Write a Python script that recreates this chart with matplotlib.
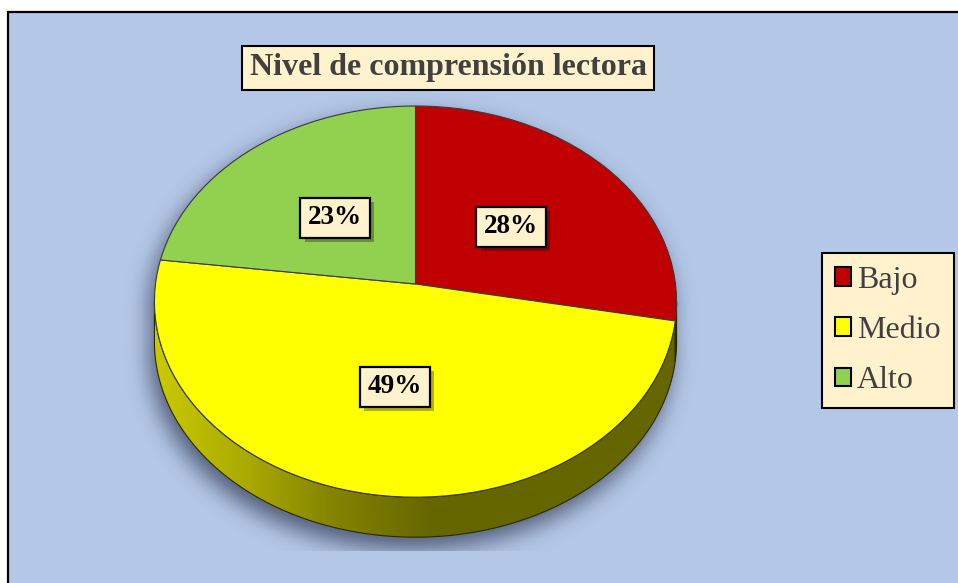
import numpy as np
import matplotlib
matplotlib.use("Agg")
import matplotlib.pyplot as plt
import matplotlib.transforms as mtransforms
import matplotlib.patheffects as pe
from matplotlib.patches import Rectangle, Polygon
from matplotlib.path import Path

# datos del grafico
categories = ["Bajo", "Medio", "Alto"]
percentages = [28, 49, 23]
colors = ["#C00000", "#FFFF00", "#92D050"]
title = "Nivel de comprensión lectora"

W, H = 958, 583
CX, CY = 415.5, 284.0      # centro de la tarta (px desde arriba)
RX, RY = 260.0, 194.0      # radios en px
K = 0.09                   # perspectiva
DEPTH = 40.0               # grosor del canto en px
SERIF = ["Liberation Serif", "DejaVu Serif"]


def to_data(x, y):
    return (x - CX) / RX, (CY - y) / RY


def tilt(u, v):
    w = 1 + K * v
    return u / w, v / w


class Tilt(mtransforms.Transform):
    input_dims = output_dims = 2
    has_inverse = False

    def transform_non_affine(self, values):
        v = np.asarray(values, dtype=float)
        x, y = tilt(v[:, 0], v[:, 1])
        return np.column_stack([x, y])

    def transform_path_non_affine(self, path):
        polys = path.to_polygons(transform=mtransforms.Affine2D().scale(400))
        verts = np.concatenate(polys) / 400.0
        return Path(self.transform_non_affine(verts), closed=True)


def blur(img, sigma):
    n = int(3 * sigma)
    k = np.exp(-0.5 * (np.arange(-n, n + 1) / sigma) ** 2)
    k /= k.sum()
    pad = np.pad(img, ((0, 0), (n, n)), mode="edge")
    tmp = sum(k[i] * pad[:, i:i + img.shape[1]] for i in range(2 * n + 1))
    pad2 = np.pad(tmp, ((n, n), (0, 0)), mode="edge")
    return sum(k[i] * pad2[i:i + img.shape[0]] for i in range(2 * n + 1))


fig = plt.figure(figsize=(W / 100, H / 100), dpi=100)
fig.patch.set_facecolor("white")
ax = fig.add_axes([0, 0, 1, 1])

wedges, _ = ax.pie(percentages, colors=colors, startangle=90, counterclock=False,
                   radius=1, center=(0, 0),
                   wedgeprops=dict(edgecolor="#3a3a3a", linewidth=0.8))

x0, x1 = to_data(0, 0)[0], to_data(W, 0)[0]
y0, y1 = to_data(0, H)[1], to_data(0, 0)[1]
ax.set_xlim(x0, x1)
ax.set_ylim(y0, y1)
ax.set_aspect("auto")
ax.axis("off")

# fondo del grafico
ax.add_patch(Rectangle((8 / W, -0.02), 1.05, (H - 12) / H + 0.02, transform=ax.transAxes,
                       facecolor="#B4C7E7", edgecolor="black", linewidth=1.6, zorder=0))

for w in wedges:
    w.set_transform(Tilt() + ax.transData)
    w.set_zorder(4)

# sombra
gx, gy = np.meshgrid(np.arange(W) + 0.5, np.arange(H) + 0.5)
th = np.linspace(0, 2 * np.pi, 400)
ex, ey = tilt(np.cos(th), np.sin(th))
rim = Path(np.column_stack([CX + ex * RX, CY - ey * RY]))
pts = np.column_stack([gx.ravel(), gy.ravel()])
m1 = rim.contains_points(pts - [-5, 10])
m2 = rim.contains_points(pts - [-5, 12 + DEPTH])
mask = (m1 | m2).reshape(H, W).astype(float)
soft = blur(mask, 11)
soft[551:, :] = 0
soft[:, :9] = 0
shade = np.zeros((H, W, 4))
shade[..., 3] = np.clip(soft * 0.8, 0, 1)
shade[..., :3] = [0.22, 0.26, 0.36]
ax.imshow(shade, extent=(x0, x1, y0, y1), origin="upper", aspect="auto",
          zorder=1, interpolation="bilinear")

# canto lateral
a = np.degrees(np.arcsin(K))
lo, hi = -180 + a, -a
shade_x = [150, 250, 330, 430, 700]
shade_f = [0.80, 0.66, 0.52, 0.40, 0.40]
grad_x = np.linspace(0, W, W)
for w, c in zip(wedges, colors):
    for off in (-360, 0, 360):
        t1, t2 = max(w.theta1 + off, lo), min(w.theta2 + off, hi)
        if t2 <= t1:
            continue
        tt = np.radians(np.linspace(t1, t2, 200))
        ux, uy = tilt(np.cos(tt), np.sin(tt))
        top = np.column_stack([ux, uy])
        bot = top - [0, DEPTH / RY]
        poly = Polygon(np.vstack([top, bot[::-1]]), closed=True, facecolor="none",
                       edgecolor="#2a2a00", linewidth=0.8, zorder=3)
        ax.add_patch(poly)
        base = np.array(matplotlib.colors.to_rgb(c))
        f = np.interp(grad_x, shade_x, shade_f)
        img = (f[None, :, None] * base[None, None, :]).repeat(2, axis=0)
        im = ax.imshow(img, extent=(x0, x1, y0, y1), aspect="auto", zorder=2.5,
                       interpolation="bilinear")
        im.set_clip_path(poly)

# etiquetas de datos
label_px = [(511, 227), (395, 387), (335, 218)]
for (px, py), p in zip(label_px, percentages):
    tx, ty = to_data(px, py)
    t = ax.text(tx, ty, f"{p}%", ha="center", va="center", fontsize=19.5,
                fontweight="bold", family=SERIF, color="black", zorder=6,
                bbox=dict(boxstyle="square,pad=0.28", facecolor="#FFF2CC",
                          edgecolor="black", linewidth=1.6))
    t.get_bbox_patch().set_path_effects(
        [pe.SimplePatchShadow(offset=(3, -3), shadow_rgbFace="black", alpha=0.3), pe.Normal()])

# titulo
fig.text(448 / W, 1 - 68 / H, title, ha="center", va="center", fontsize=23,
         fontweight="bold", family=SERIF, color="#404040",
         bbox=dict(boxstyle="square,pad=0.22", facecolor="#FFF2CC",
                   edgecolor="black", linewidth=1.5))

# leyenda
leg = fig.legend(wedges, categories, loc="upper left", bbox_to_anchor=(822 / W, 1 - 253 / H),
                 borderaxespad=0, frameon=True, fancybox=False, framealpha=1,
                 facecolor="#FFF2CC", edgecolor="black",
                 prop=dict(family=SERIF, size=23), handlelength=0.5, handleheight=0.5,
                 handletextpad=0.2, labelspacing=0.66, borderpad=0.4)
leg.get_frame().set_linewidth(1.5)
for txt in leg.get_texts():
    txt.set_color("#404040")
for h in leg.legend_handles:
    h.set_edgecolor("black")
    h.set_linewidth(1.5)

fig.savefig("out.png", dpi=100)
